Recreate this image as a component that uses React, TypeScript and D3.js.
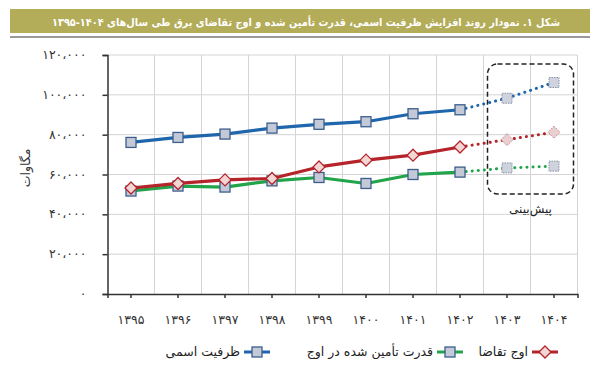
import React, { useEffect, useRef } from 'react';
import * as d3 from 'd3';

const years = ['1395', '1396', '1397', '1398', '1399', '1400', '1401', '1402', '1403', '1404'];
const capacity = [76100, 78600, 80300, 83300, 85200, 86500, 90500, 92500, 98300, 106200];
const peakDemand = [53200, 55500, 57300, 58000, 63800, 67200, 69700, 73800, 77500, 81200];
const suppliedAtPeak = [51700, 54200, 53700, 56800, 58500, 55500, 60000, 61200, 63300, 64200];
const yTicks = [0, 20000, 40000, 60000, 80000, 100000, 120000];
const forecastFrom = 7; // index of 1402, last actual year

const titleText = 'شکل ۱. نمودار روند افزایش ظرفیت اسمی، قدرت تأمین شده و اوج تقاضای برق طی سال‌های ۱۴۰۴-۱۳۹۵';
const yLabel = 'مگاوات';
const forecastLabel = 'پیش‌بینی';

const fa = (s: string) => s.replace(/\d/g, d => '۰۱۲۳۴۵۶۷۸۹'[+d]);
const faNum = (v: number) => (v === 0 ? '۰' : fa(d3.format(',')(v)).replace(/,/g, '،'));

const seriesConfig = [
  { name: 'ظرفیت اسمی', values: capacity, color: '#1f66ad', marker: 'square' },
  { name: 'قدرت تأمین شده در اوج', values: suppliedAtPeak, color: '#21a44a', marker: 'square' },
  { name: 'اوج تقاضا', values: peakDemand, color: '#b5232b', marker: 'diamond' }
];

const width = 600;
const height = 367;
const margins = { l: 107.5, t: 55, r: 22.5, b: 73 };
const font = '"DejaVu Sans", sans-serif';

const Chart = () => {
  const container = useRef(null);

  useEffect(() => {
    const svg = d3.select(container.current).selectAll('svg').data([0]).join('svg');
    svg.attr('width', width).attr('height', height).style('display', 'block');
    svg.selectAll('*').remove();

    const plotwidth = width - margins.l - margins.r;
    const plotheight = height - margins.t - margins.b;

    const xScale = d3.scaleBand().domain(years).range([0, plotwidth]);
    const yScale = d3.scaleLinear().domain([0, 120000]).range([plotheight, 0]);
    const cx = (i: number) => xScale(years[i]) + xScale.bandwidth() / 2;

    // title bar
    svg.append('rect').attr('x', 10).attr('y', 9).attr('width', 580).attr('height', 24).attr('fill', '#b3ac58');
    svg.append('rect').attr('x', 10).attr('y', 36).attr('width', 580).attr('height', 2).attr('fill', '#9a9a9a');
    svg
      .append('text')
      .attr('x', 560)
      .attr('y', 25.5)
      .attr('text-anchor', 'start')
      .attr('direction', 'rtl')
      .attr('textLength', 508)
      .attr('lengthAdjust', 'spacingAndGlyphs')
      .style('font-family', font)
      .style('font-size', '11px')
      .style('font-weight', 'bold')
      .attr('fill', '#ffffff')
      .text(titleText);

    const plotg = svg.append('g').attr('transform', `translate(${margins.l},${margins.t})`);

    // grid
    plotg
      .selectAll('.hgrid')
      .data(yTicks.slice(1))
      .join('line')
      .attr('x1', 0)
      .attr('x2', plotwidth)
      .attr('y1', d => yScale(d))
      .attr('y2', d => yScale(d))
      .attr('stroke', '#d4d4d4')
      .attr('stroke-width', 1);
    plotg
      .selectAll('.vgrid')
      .data(years)
      .join('line')
      .attr('x1', d => xScale(d) + xScale.bandwidth())
      .attr('x2', d => xScale(d) + xScale.bandwidth())
      .attr('y1', 0)
      .attr('y2', plotheight)
      .attr('stroke', '#d4d4d4')
      .attr('stroke-width', 1);

    // forecast box
    const bx = xScale(years[8]) + 4;
    plotg
      .append('rect')
      .attr('x', bx)
      .attr('y', 9)
      .attr('width', xScale.bandwidth() * 2 - 8)
      .attr('height', 130)
      .attr('rx', 10)
      .attr('fill', 'none')
      .attr('stroke', '#222')
      .attr('stroke-width', 1.5)
      .attr('stroke-dasharray', '5,3');
    plotg
      .append('text')
      .attr('x', xScale(years[9]))
      .attr('y', 158)
      .attr('text-anchor', 'middle')
      .style('font-family', font)
      .style('font-size', '12px')
      .attr('fill', '#222')
      .text(forecastLabel);

    // axes
    const yAxis = d3.axisLeft(yScale).tickValues(yTicks).tickSize(5).tickFormat(() => '');
    const yaxisg = plotg.append('g').call(yAxis);
    yaxisg.select('.domain').attr('stroke', '#333').attr('stroke-width', 1.5);
    yaxisg.selectAll('line').attr('stroke', '#333').attr('stroke-width', 1.5);
    plotg
      .selectAll('.ylab')
      .data(yTicks)
      .join('text')
      .attr('x', -21)
      .attr('y', d => yScale(d) + 4)
      .attr('text-anchor', 'end')
      .style('font-family', font)
      .style('font-size', '12.5px')
      .attr('fill', '#333')
      .text(d => faNum(d));

    const xAxis = d3.axisBottom(xScale).tickSize(4).tickFormat(() => '');
    const xaxisg = plotg.append('g').attr('transform', `translate(0,${plotheight})`).call(xAxis);
    xaxisg.select('.domain').attr('stroke', '#333').attr('stroke-width', 1.5);
    xaxisg.selectAll('line').attr('stroke', '#333').attr('stroke-width', 1.5);
    plotg
      .selectAll('.xlab')
      .data(years)
      .join('text')
      .attr('x', (d, i) => cx(i))
      .attr('y', plotheight + 30)
      .attr('text-anchor', 'middle')
      .style('font-family', font)
      .style('font-size', '12.5px')
      .attr('fill', '#333')
      .text(d => fa(d));

    svg
      .append('text')
      .attr('transform', `translate(30,168)rotate(-90)`)
      .attr('text-anchor', 'middle')
      .style('font-family', font)
      .style('font-size', '12.5px')
      .attr('fill', '#333')
      .text(yLabel);

    // series
    const line = d3
      .line<number>()
      .x((d, i) => cx(i))
      .y(d => yScale(d));

    const drawMarker = (g, kind, x, y, color, forecast) => {
      if (kind === 'square') {
        g.append('rect')
          .attr('x', x - 5)
          .attr('y', y - 5)
          .attr('width', 10)
          .attr('height', 10)
          .attr('fill', forecast ? '#cfd3dd' : '#c3c9d6')
          .attr('stroke', forecast ? '#8a94a8' : '#3d5e8c')
          .attr('stroke-width', forecast ? 1 : 1.3)
          .attr('stroke-dasharray', forecast ? '1.5,1' : null);
      } else {
        g.append('path')
          .attr('d', `M${x},${y - 6}L${x + 6},${y}L${x},${y + 6}L${x - 6},${y}Z`)
          .attr('fill', forecast ? '#e9cfd0' : '#f1d6d4')
          .attr('stroke', forecast ? '#c98a8e' : color)
          .attr('stroke-width', forecast ? 1 : 1.3)
          .attr('stroke-dasharray', forecast ? '1.5,1' : null);
      }
    };

    seriesConfig.forEach(s => {
      const actual = s.values.map((v, i) => (i <= forecastFrom ? v : null));
      plotg
        .append('path')
        .attr('d', line.defined(d => d !== null)(actual))
        .attr('fill', 'none')
        .attr('stroke', s.color)
        .attr('stroke-width', 3.2)
        .attr('stroke-linejoin', 'round');
      const fc = s.values.map((v, i) => (i >= forecastFrom ? v : null));
      plotg
        .append('path')
        .attr('d', line.defined(d => d !== null)(fc))
        .attr('fill', 'none')
        .attr('stroke', s.color)
        .attr('stroke-width', 3)
        .attr('stroke-linecap', 'round')
        .attr('stroke-dasharray', '0.1,6');
      const mg = plotg.append('g');
      s.values.forEach((v, i) => drawMarker(mg, s.marker, cx(i), yScale(v), s.color, i > forecastFrom));
    });

    // legend
    const legendItems = [
      { s: seriesConfig[2], x: 545 },
      { s: seriesConfig[1], x: 450 },
      { s: seriesConfig[0], x: 257 }
    ];
    const lg = svg.append('g');
    legendItems.forEach(({ s, x }) => {
      const y = 352;
      lg.append('line')
        .attr('x1', x - 13)
        .attr('x2', x + 13)
        .attr('y1', y)
        .attr('y2', y)
        .attr('stroke', s.color)
        .attr('stroke-width', 3);
      drawMarker(lg, s.marker, x, y, s.color, false);
      lg.append('text')
        .attr('x', x - 17)
        .attr('y', y + 4)
        .attr('text-anchor', 'start')
        .attr('direction', 'rtl')
        .style('font-family', font)
        .style('font-size', '12.5px')
        .attr('fill', '#222')
        .text(s.name);
    });
  }, []);

  return <div ref={container}></div>;
};

export default function App() {
  return (
    <div style={{ margin: -8, width: 600, height: 367, background: '#fff' }}>
      <Chart />
    </div>
  );
}
